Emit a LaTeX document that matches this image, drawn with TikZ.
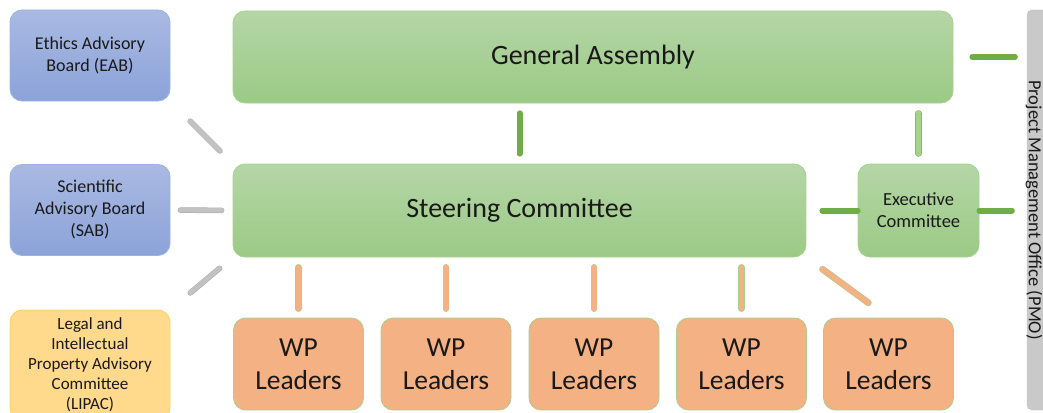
\documentclass[tikz,border=0pt]{standalone}
\usepackage{fontspec}
\setmainfont{Carlito}
\definecolor{bluetop}{HTML}{A9B9E2}
\definecolor{bluebot}{HTML}{8CA3D9}
\definecolor{blueline}{HTML}{9DB3E3}
\definecolor{greentop}{HTML}{B5D6A7}
\definecolor{greenbot}{HTML}{9BCA85}
\definecolor{greenline}{HTML}{A9D18E}
\definecolor{darkgreen}{HTML}{70AD47}
\definecolor{orangefill}{HTML}{F4B183}
\definecolor{yellowfill}{HTML}{FFD98C}
\definecolor{yellowline}{HTML}{FFD35A}
\definecolor{pmofill}{HTML}{C9C9C9}
\definecolor{barfill}{HTML}{C2C2C2}
\definecolor{barline}{HTML}{ABABAB}
\begin{document}
\begin{tikzpicture}[x=1pt, y=-1pt, text=black!90,
  box/.style={rounded corners=12pt, inner sep=2pt, align=center, line width=0.8pt},
  bluebox/.style={box, draw=blueline, top color=bluetop, bottom color=bluebot, font=\fontsize{18}{22}\selectfont, minimum width=160pt, minimum height=91pt},
  greenbox/.style={box, draw=greenline, top color=greentop, bottom color=greenbot},
  wpbox/.style={box, draw=greenline, fill=orangefill, font=\fontsize{27.5}{33}\selectfont, minimum width=130pt, minimum height=92pt},
  graybar/.style={draw=barline, double=barfill, double distance=4.6pt, line width=0.5pt, line cap=round},
  wpbar/.style={draw=greenline, double=orangefill, double distance=5.6pt, line width=0.6pt, line cap=round},
  dgbar/.style={draw=darkgreen, double=darkgreen, double distance=5pt, line width=0.5pt, line cap=round},
  lgbar/.style={draw=darkgreen!60!greenline, double=greenline, double distance=5.4pt, line width=0.5pt, line cap=round}]

\useasboundingbox (0,0) rectangle (1043,412);

% advisory boards
\node[bluebox] (eab) at (90,55.5) {Ethics Advisory\\Board (EAB)};
\node[bluebox] (sab) at (90,210) {Scientific\\Advisory Board\\(SAB)};
\node[box, draw=yellowline, fill=yellowfill, font=\fontsize{17}{20}\selectfont, minimum width=160pt, minimum height=110pt] (lipac) at (90,365) {Legal and\\Intellectual\\Property Advisory\\Committee\\(LIPAC)};

% committees
\node[greenbox, minimum width=720pt, minimum height=92pt, font=\fontsize{28}{32}\selectfont] (ga) at (593,57) {General Assembly};
\node[greenbox, minimum width=573pt, minimum height=93pt, font=\fontsize{28}{32}\selectfont] (sc) at (519.5,210.5) {Steering Committee};
\node[greenbox, minimum width=121pt, minimum height=93pt, font=\fontsize{18.5}{22}\selectfont] (ec) at (918.5,210.5) {Executive\\Committee};

% PMO
\node[draw=barfill, fill=pmofill, rounded corners=5pt, minimum width=400pt, minimum height=33pt, rotate=-90] (pmo) at (1043.5,210) {};
\node[rotate=-90, font=\fontsize{18.5}{22}\selectfont] (pmotxt) at (1034,210) {Project Management Office (PMO)};

% work packages
\node[wpbox] (wp1) at (298.5,364) {WP\\Leaders};
\node[wpbox] (wp2) at (446,364) {WP\\Leaders};
\node[wpbox] (wp3) at (594,364) {WP\\Leaders};
\node[wpbox] (wp4) at (741.5,364) {WP\\Leaders};
\node[wpbox] (wp5) at (888.5,364) {WP\\Leaders};

% links
\draw[graybar, shorten <=28pt, shorten >=18pt] (eab.south east) -- (sc.north west);
\draw[graybar, shorten <=10pt, shorten >=11pt] (sab.east) -- (sc.west);
\draw[graybar, shorten <=26pt, shorten >=17pt] (lipac.north east) -- (sc.south west);

\draw[dgbar, shorten <=10pt, shorten >=10pt] (sc.north) -- (sc.north |- ga.south);
\draw[lgbar, shorten <=10pt, shorten >=10pt] (ec.north) -- (ec.north |- ga.south);
\draw[dgbar, shorten <=16pt] (sc.east) -- (ec.west);
\draw[dgbar, shorten >=15pt] (ec.east) -- (ec.east -| pmo.south);
\draw[dgbar, shorten <=19pt, shorten >=12pt] (ga.east) -- (ga.east -| pmo.south);

\draw[wpbar, shorten <=10pt, shorten >=9pt] (wp1.north |- sc.south) -- (wp1.north);
\draw[wpbar, shorten <=10pt, shorten >=9pt] (wp2.north |- sc.south) -- (wp2.north);
\draw[wpbar, shorten <=10pt, shorten >=9pt] (wp3.north |- sc.south) -- (wp3.north);
\draw[wpbar, shorten <=10pt, shorten >=9pt] (wp4.north |- sc.south) -- (wp4.north);
\draw[wpbar, shorten <=20pt, shorten >=25pt] (sc.south east) -- (wp5.north);
\end{tikzpicture}
\end{document}
